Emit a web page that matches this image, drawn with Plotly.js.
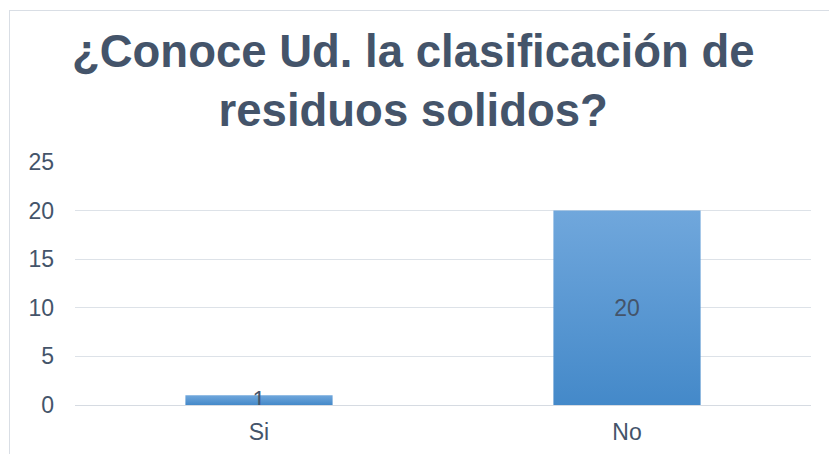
<!DOCTYPE html>
<html>
<head>
<meta charset="utf-8">
<script src="https://cdn.plot.ly/plotly-3.0.1.min.js"></script>
<style>
  html, body { margin: 0; padding: 0; background: #fff; }
  #wrap { position: relative; width: 829px; height: 454px; overflow: hidden; }
  #frame { position: absolute; left: 9px; top: 10px; width: 840px; height: 460px; border: 1px solid #D9DEE5; box-sizing: border-box; }
  #chart { position: absolute; left: 0; top: 0; width: 829px; height: 454px; }
</style>
</head>
<body>
<div id="wrap">
  <div id="frame"></div>
  <div id="chart"></div>
</div>
<script>
const categories = ["Si", "No"];
const values = [1, 20];
const valueLabels = ["1", "20"];
const yTicks = [0, 5, 10, 15, 20, 25];
const titleText = "¿Conoce Ud. la clasificación de<br>residuos solidos?";

const textColor = "#44546A";
const fontFamily = "Liberation Sans, Arial, sans-serif";

const trace = {
  type: "bar",
  x: categories,
  y: values,
  text: valueLabels,
  textposition: "inside",
  insidetextanchor: "middle",
  textangle: 0,
  constraintext: "none",
  textfont: { family: fontFamily, size: 23, color: textColor },
  marker: { color: "#5B9BD5", line: { width: 0 } },
  hoverinfo: "none"
};

const layout = {
  width: 829,
  height: 454,
  margin: { l: 75, r: 18, t: 162, b: 49, pad: 0 },
  paper_bgcolor: "rgba(0,0,0,0)",
  plot_bgcolor: "rgba(0,0,0,0)",
  bargap: 0.6,
  showlegend: false,
  title: {
    text: titleText,
    font: { family: fontFamily, size: 45.5, color: textColor, weight: "bold" },
    xref: "container",
    x: 0.4985,
    xanchor: "center",
    yref: "container",
    y: 1 - 67 / 454,
    yanchor: "top"
  },
  xaxis: {
    type: "category",
    showgrid: false,
    zeroline: false,
    showline: false,
    ticks: "",
    ticklabelstandoff: 11,
    tickfont: { family: fontFamily, size: 23, color: textColor }
  },
  yaxis: {
    range: [0, 25],
    tickvals: yTicks,
    ticktext: yTicks.map(String),
    showgrid: true,
    gridcolor: "#DDE2E8",
    gridwidth: 1,
    zeroline: true,
    zerolinecolor: "#D6DBE2",
    zerolinewidth: 1,
    showline: false,
    ticks: "",
    ticklabelstandoff: 20,
    tickfont: { family: fontFamily, size: 23, color: textColor }
  }
};

function applyGradient(gd) {
  const svg = gd.querySelector("svg.main-svg");
  if (!svg) return;
  let defs = svg.querySelector("defs");
  const ns = "http://www.w3.org/2000/svg";
  if (!defs) { defs = document.createElementNS(ns, "defs"); svg.insertBefore(defs, svg.firstChild); }
  if (!svg.querySelector("#barGrad")) {
    const lg = document.createElementNS(ns, "linearGradient");
    lg.setAttribute("id", "barGrad");
    lg.setAttribute("x1", "0"); lg.setAttribute("y1", "0");
    lg.setAttribute("x2", "0"); lg.setAttribute("y2", "1");
    const s1 = document.createElementNS(ns, "stop");
    s1.setAttribute("offset", "0"); s1.setAttribute("stop-color", "#70A7DC");
    const s2 = document.createElementNS(ns, "stop");
    s2.setAttribute("offset", "1"); s2.setAttribute("stop-color", "#4489C9");
    lg.appendChild(s1); lg.appendChild(s2);
    defs.appendChild(lg);
  }
  gd.querySelectorAll(".bars .point path").forEach(p => { p.style.fill = "url(#barGrad)"; });
}

Plotly.newPlot("chart", [trace], layout, { displayModeBar: false, staticPlot: true })
  .then(gd => applyGradient(gd));
</script>
</body>
</html>
